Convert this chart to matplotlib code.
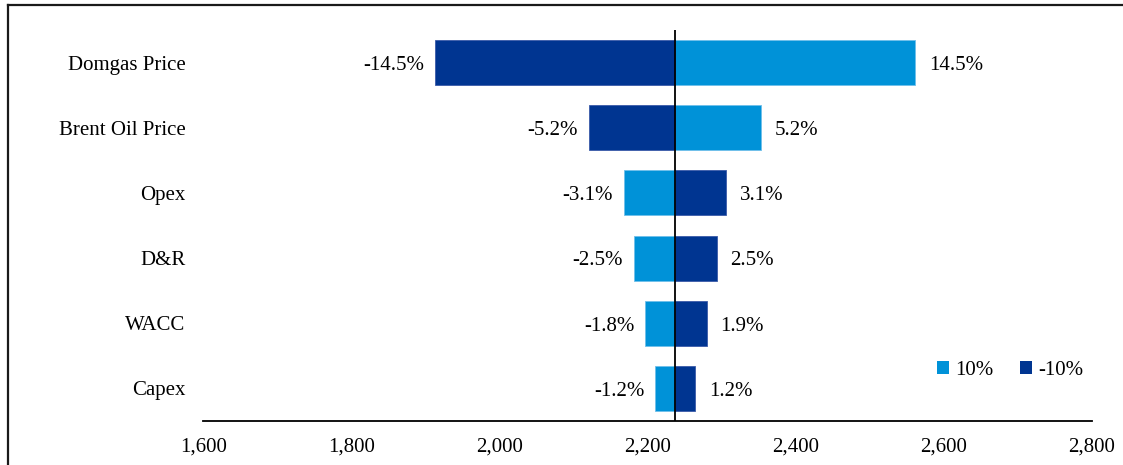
import matplotlib.pyplot as plt
from matplotlib.lines import Line2D
from matplotlib.patches import Patch
from matplotlib.ticker import FuncFormatter

# Sensitivity of valuation to +/-10% moves in each driver
base_value = 2237
categories = ['Domgas Price', 'Brent Oil Price', 'Opex', 'D&R', 'WACC', 'Capex']
up_pct = [14.5, 5.2, -3.1, -2.5, -1.8, -1.2]      # driver +10%
down_pct = [-14.5, -5.2, 3.1, 2.5, 1.9, 1.2]      # driver -10%
series_names = ['10%', '-10%']

light_blue = '#0092d8'
dark_blue = '#003591'

plt.rcParams['font.family'] = ['Liberation Serif', 'DejaVu Serif']
fs = 15

fig = plt.figure(figsize=(11.23, 4.65), dpi=100)
ax = fig.add_axes([0.1812, 0.0946, 0.7912, 0.8409])

y = list(range(len(categories)))
bar_h = 0.69

for pcts, color in [(up_pct, light_blue), (down_pct, dark_blue)]:
    widths = [base_value * p / 100 for p in pcts]
    ax.barh(y, widths, left=base_value, height=bar_h, color=color,
            edgecolor='#6fbfea' if color == light_blue else '#3a5aa8', linewidth=0.6)
    for yi, p, w in zip(y, pcts, widths):
        end = base_value + w
        if p >= 0:
            ax.annotate(f'{p:.1f}%', (end, yi), xytext=(10, -2), textcoords='offset points',
                        ha='left', va='center', fontsize=fs)
        else:
            ax.annotate(f'{p:.1f}%', (end, yi), xytext=(-8, -2), textcoords='offset points',
                        ha='right', va='center', fontsize=fs)

ax.axvline(base_value, color='black', linewidth=1.3, zorder=5)

ax.set_xlim(1600, 2800)
ax.set_ylim(len(categories) - 0.5, -0.5)
ax.set_xticks(range(1600, 2801, 200))
ax.xaxis.set_major_formatter(FuncFormatter(lambda v, _: f'{v:,.0f}'))
ax.set_yticks(y)
ax.set_yticklabels(categories, va='center_baseline')
ax.tick_params(axis='x', length=0, pad=12, labelsize=fs)
ax.tick_params(axis='y', length=0, pad=13, labelsize=fs)

for side in ['top', 'right', 'left']:
    ax.spines[side].set_visible(False)
ax.spines['bottom'].set_linewidth(1.3)

handles = [Patch(facecolor=light_blue), Patch(facecolor=dark_blue)]
ax.legend(handles, series_names, loc='center', bbox_to_anchor=(0.908, 0.13), ncol=2,
          frameon=False, fontsize=fs, handlelength=0.55, handleheight=0.55,
          handletextpad=0.3, columnspacing=1.3)

# frame lines along the top and left edges of the figure
fig.add_artist(Line2D([0.0075, 1.0], [0.989, 0.989], color='#1a1a1a', linewidth=1.6))
fig.add_artist(Line2D([0.0075, 0.0075], [0.0, 0.989], color='#1a1a1a', linewidth=1.6))

fig.savefig('out.png', dpi=100)
